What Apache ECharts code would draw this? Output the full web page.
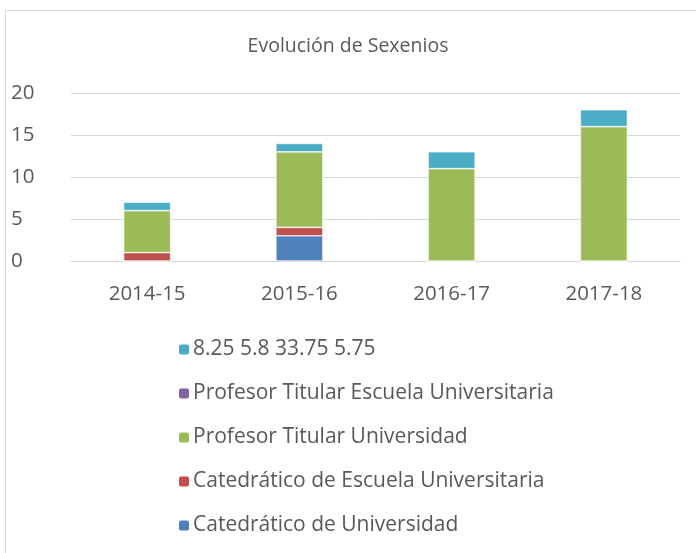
<!DOCTYPE html>
<html>
<head>
<meta charset="utf-8">
<script src="https://cdn.jsdelivr.net/npm/echarts@6/dist/echarts.min.js"></script>
<style>
  html, body { margin: 0; padding: 0; background: #fff; }
  #chart { width: 696px; height: 553px; }
</style>
</head>
<body>
<div id="chart"></div>
<script>
var categories = ["2014-15", "2015-16", "2016-17", "2017-18"];
var catUniv = [0, 3, 0, 0];
var catEscuela = [1, 1, 0, 0];
var titularUniv = [5, 9, 11, 16];
var titularEscuela = [0, 0, 0, 0];
var otros = [1, 1, 2, 2];

var names = [
  "Catedrático de Universidad",
  "Catedrático de Escuela Universitaria",
  "Profesor Titular Universidad",
  "Profesor Titular Escuela Universitaria",
  "8.25 5.8 33.75 5.75"
];
var colors = ["#4f81bd", "#c0504d", "#9bbb59", "#8064a2", "#4bacc6"];
var values = [catUniv, catEscuela, titularUniv, titularEscuela, otros];

var myChart = echarts.init(document.getElementById("chart"));
var font = "'Open Sans', sans-serif";

var series = names.map(function (n, i) {
  return {
    name: n,
    type: "bar",
    stack: "total",
    barWidth: 47,
    data: values[i],
    itemStyle: { color: colors[i], borderColor: "#fff", borderWidth: 0.6 },
    emphasis: { disabled: true }
  };
});

var option = {
  animation: false,
  textStyle: { fontFamily: font },
  graphic: [
    {
      type: "rect",
      shape: { x: 5.5, y: 10.5, width: 720, height: 560 },
      style: { fill: "none", stroke: "#d9d9d9", lineWidth: 1 },
      z: -1
    }
  ],
  title: {
    text: "Evolución de Sexenios",
    left: "center",
    top: 31,
    textStyle: { fontFamily: font, fontSize: 19.5, fontWeight: "normal", color: "#595959" }
  },
  legend: {
    orient: "vertical",
    left: 172,
    top: 334,
    itemGap: 23,
    itemWidth: 12,
    itemHeight: 12,
    data: names.slice().reverse(),
    textStyle: { fontFamily: font, fontSize: 21, color: "#595959", padding: [0, 0, 0, -2] }
  },
  grid: { left: 71, right: 16, top: 93, height: 168 },
  xAxis: {
    type: "category",
    data: categories,
    axisLine: { lineStyle: { color: "#d9d9d9" } },
    axisTick: { show: false },
    axisLabel: { fontFamily: font, fontSize: 20.5, color: "#595959", margin: 23 }
  },
  yAxis: {
    type: "value",
    min: 0,
    max: 20,
    interval: 5,
    axisLine: { show: false },
    axisTick: { show: false },
    splitLine: { lineStyle: { color: "#d9d9d9", width: 1 } },
    axisLabel: { fontFamily: font, fontSize: 20.5, color: "#595959", margin: 60, align: "left" }
  },
  series: series
};

myChart.setOption(option);
</script>
</body>
</html>
